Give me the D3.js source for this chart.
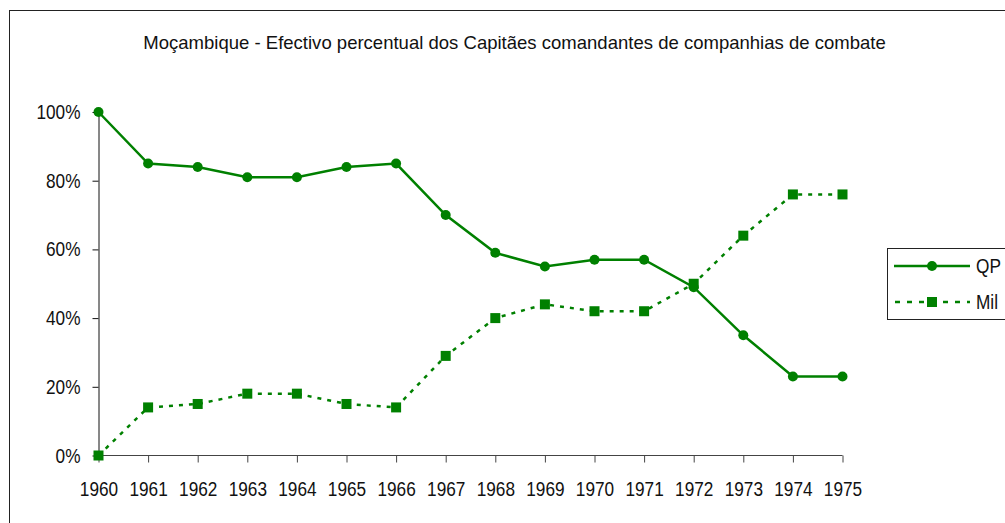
<!DOCTYPE html>
<html><head><meta charset="utf-8">
<script src="https://cdn.jsdelivr.net/npm/d3@7"></script>
<style>
html,body{margin:0;padding:0;background:#fff;}
svg text{font-family:"Liberation Sans","Arial",sans-serif;fill:#111;}
</style></head><body>
<svg id="c" width="1005" height="523"></svg>
<script>
const title = "Moçambique - Efectivo percentual dos Capitães comandantes de companhias de combate";
const years = ["1960","1961","1962","1963","1964","1965","1966","1967","1968","1969","1970","1971","1972","1973","1974","1975"];
const qp  = [100,85,84,81,81,84,85,70,59,55,57,57,49,35,23,23];
const mil = [0,14,15,18,18,15,14,29,40,44,42,42,50,64,76,76];
const yTicks = [0,20,40,60,80,100];
const seriesNames = ["QP","Mil"];
const green = "#008000";
const FS = 20.5, NARROW = 0.84;

function narrow(sel, f){
  f = f || NARROW;
  sel.each(function(){
    const w = this.getComputedTextLength();
    d3.select(this).attr("textLength", w*f).attr("lengthAdjust","spacingAndGlyphs");
  });
}

const svg = d3.select("#c");
svg.append("rect").attr("x",9.5).attr("y",10.5).attr("width",1010).attr("height",530)
  .attr("fill","#fff").attr("stroke","#222").attr("stroke-width",1);

svg.append("text").attr("x",514.5).attr("y",49).attr("text-anchor","middle")
  .attr("font-size",19).text(title).call(narrow, 0.975);

const x = d3.scalePoint().domain(years).range([98.5,842.5]);
const y = d3.scaleLinear().domain([0,100]).range([455.5,112]);

const xAxis = svg.append("g").attr("transform","translate(0,455.5)")
  .call(d3.axisBottom(x).tickSize(7).tickSizeOuter(0));
xAxis.select(".domain").attr("stroke","#444").attr("d",`M${x("1960")},0H${x("1975")}`);
xAxis.selectAll(".tick line").attr("stroke","#444");
xAxis.selectAll(".tick text").attr("font-size",FS).attr("font-family",null).attr("y",26).attr("dy","0.71em").attr("fill","#111").call(narrow);

const yAxis = svg.append("g").attr("transform","translate(98.5,0)")
  .call(d3.axisLeft(y).tickValues(yTicks).tickFormat(d=>d+"%").tickSize(6).tickSizeOuter(0));
yAxis.select(".domain").attr("stroke","#111");
yAxis.selectAll(".tick line").attr("stroke","#111");
yAxis.selectAll(".tick text").attr("font-size",FS).attr("font-family",null).attr("x",-18).attr("fill","#111").call(narrow);

const line = d3.line().x((d,i)=>x(years[i])).y(d=>y(d));

svg.append("path").datum(mil).attr("d",line).attr("fill","none")
  .attr("stroke",green).attr("stroke-width",2.5).attr("stroke-dasharray","4,6");
svg.append("path").datum(qp).attr("d",line).attr("fill","none")
  .attr("stroke",green).attr("stroke-width",2.5);

svg.selectAll("rect.m").data(mil).enter().append("rect").attr("class","m")
  .attr("x",(d,i)=>x(years[i])-5).attr("y",d=>y(d)-5).attr("width",10).attr("height",10).attr("fill",green);
svg.selectAll("circle.q").data(qp).enter().append("circle").attr("class","q")
  .attr("cx",(d,i)=>x(years[i])).attr("cy",d=>y(d)).attr("r",5).attr("fill",green);

// legend
const lg = svg.append("g");
lg.append("rect").attr("x",887.5).attr("y",248.5).attr("width",130).attr("height",71)
  .attr("fill","#fff").attr("stroke","#222");
lg.append("line").attr("x1",894).attr("x2",970).attr("y1",266).attr("y2",266)
  .attr("stroke",green).attr("stroke-width",2.5);
lg.append("circle").attr("cx",932).attr("cy",266).attr("r",5).attr("fill",green);
lg.append("line").attr("x1",895).attr("x2",970).attr("y1",302).attr("y2",302)
  .attr("stroke",green).attr("stroke-width",2.5).attr("stroke-dasharray","5,7");
lg.append("rect").attr("x",927).attr("y",297).attr("width",10).attr("height",10).attr("fill",green);
lg.append("text").attr("x",976).attr("y",273).attr("font-size",FS).text(seriesNames[0]).call(narrow);
lg.append("text").attr("x",976).attr("y",309).attr("font-size",FS).text(seriesNames[1]).call(narrow);
</script>
</body></html>
